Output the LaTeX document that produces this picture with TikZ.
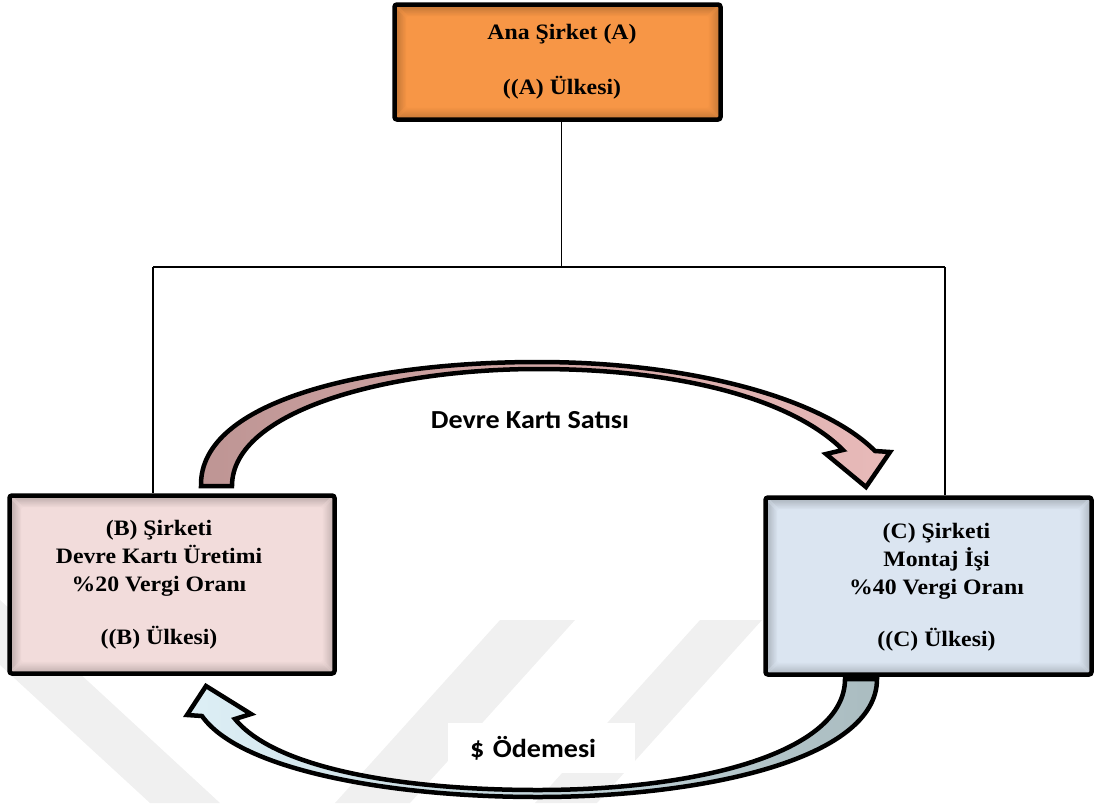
\documentclass[tikz,border=0pt]{standalone}
\usepackage{fontspec}
\setmainfont{Liberation Serif}[FakeStretch=1.08]
\newfontfamily\calfont{Carlito}[FakeStretch=1.08]
\usetikzlibrary{calc,backgrounds}

\definecolor{boxA}{HTML}{F79646}
\definecolor{boxB}{HTML}{F2DCDB}
\definecolor{boxC}{HTML}{DBE5F1}
\definecolor{saleL}{HTML}{BE9594}
\definecolor{saleR}{HTML}{E8BAB9}
\definecolor{payL}{HTML}{DDEFF6}
\definecolor{payR}{HTML}{AABCC0}

\tikzset{
  innershadow/.style={path picture={
    \foreach \i in {0,...,9}{
      \pgfmathsetmacro\op{0.15*(1-\i/10)}
      \draw[black, opacity=\op, line width=1.1pt]
        ([shift={({(\i+2.2)*1pt},{-(\i+2.2)*1pt})}]path picture bounding box.north west)
        rectangle
        ([shift={({-(\i+2.2)*1pt},{(\i+2.2)*1pt})}]path picture bounding box.south east);
    }}},
  box/.style={draw=black, line width=4.5pt, rounded corners=2.5pt, inner sep=0pt, innershadow},
  boxtext/.style={align=center, inner sep=0pt, font=\bfseries\fontsize{22}{28}\selectfont},
  link/.style={draw=black, line width=1.3pt},
  bendarrow/.style={draw=black, line width=4.5pt, line join=miter},
  flowlabel/.style={font=\calfont\bfseries\fontsize{26}{28}\selectfont, inner sep=0pt},
  wm/.style={fill=black!6, draw=none}
}

\begin{document}
\begin{tikzpicture}[x=1pt,y=-1pt]
\useasboundingbox (0,0) rectangle (1097,803);

% companies
\node[box, fill=boxA, minimum width=326pt, minimum height=115pt] (A) at (557.5,62) {};
\node[box, fill=boxB, minimum width=325pt, minimum height=178pt] (B) at (172,584.5) {};
\node[box, fill=boxC, minimum width=326pt, minimum height=177pt] (C) at (928.5,586) {};

\node[boxtext] (Atext) at ($(A.center)+(4.5,0)$) {Ana Şirket (A)\\[27pt]((A) Ülkesi)};
\node[boxtext] (Btext) at ($(B.center)+(-13,0)$)
  {(B) Şirketi\\Devre Kartı Üretimi\\\%20 Vergi Oranı\\[25pt]((B) Ülkesi)};
\node[boxtext] (Ctext) at ($(C.center)+(8,1)$)
  {(C) Şirketi\\Montaj İşi\\\%40 Vergi Oranı\\[24pt]((C) Ülkesi)};

% flow labels
\node[flowlabel] (sale) at (530,420) {Devre Kartı Satısı};
\node[flowlabel, fill=white, align=left, text width=143pt, inner xsep=22pt,
      minimum height=50pt] (pay) at (541.5,748) {\$ Ödemesi};

\begin{pgfonlayer}{background}
  % faint background stripes
  \fill[wm] (0,600) -- (220,803) -- (150,803) -- (0,665) -- cycle;
  \fill[wm] (500,620) -- (575,620) -- (410,803) -- (335,803) -- cycle;
  \fill[wm] (700,620) -- (762,620) -- (597,803) -- (535,803) -- cycle;

  % ownership lines
  \coordinate (jL) at (153,267);
  \coordinate (jR) at (945,267);
  \coordinate (aOut) at ($(A.south)+(4,0)$);
  \draw[link] (aOut) -- (aOut |- jL);
  \draw[link] (jL) -- (jR);
  \draw[link] (jL) -- (jL |- B.north);
  \draw[link] (jR) -- (jR |- C.north);

  % circuit board sale: B to C
  \draw[bendarrow, left color=saleL, right color=saleR]
    (201,486) .. controls (199,400) and (370,362) .. (538,362)
    .. controls (690,362) and (822,398) .. (875,451)
    -- (890,452) -- (866,487) -- (826,454) -- (843,450)
    .. controls (792,399) and (680,369) .. (538,369)
    .. controls (390,369) and (232,410) .. (232,486) -- cycle;

  % payment: C to B
  \draw[bendarrow, left color=payL, right color=payR]
    (877,679) .. controls (877,760) and (700,797) .. (538,797)
    .. controls (390,797) and (240,770) .. (202,716)
    -- (187,715) -- (206,686) -- (251,714) -- (235,719)
    .. controls (275,768) and (400,790) .. (538,790)
    .. controls (700,790) and (845,752) .. (845,679) -- cycle;
\end{pgfonlayer}
\end{tikzpicture}
\end{document}
